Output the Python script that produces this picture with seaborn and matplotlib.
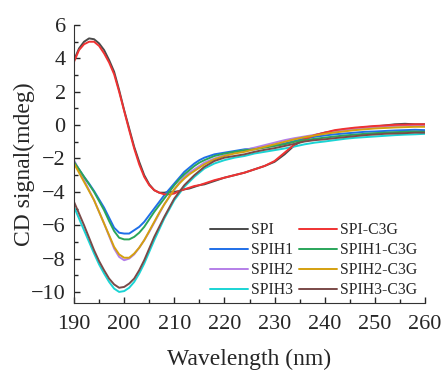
import numpy as np
import pandas as pd
import matplotlib
matplotlib.use('Agg')
import matplotlib.pyplot as plt
from matplotlib.ticker import MultipleLocator
import seaborn as sns

# wavelength grid (nm): 1 nm steps over the bands, 2 nm steps after
wavelength = list(range(190, 216)) + list(range(216, 261, 2))

spi = [3.9, 4.6, 5.0, 5.2, 5.15, 4.9, 4.5, 3.9, 3.2, 2.1, 0.9, -0.2, -1.3,
       -2.2, -3.0, -3.55, -3.9, -4.05, -4.05, -4.0, -4.0, -3.95, -3.85, -3.8, -3.7, -3.6,
       -3.55, -3.35, -3.15, -3.0, -2.85, -2.65, -2.45, -2.2, -1.75, -1.2, -0.85, -0.6,
       -0.45, -0.35, -0.25, -0.2, -0.12, -0.08, -0.02, 0.05, 0.08, 0.05, 0.05]
spi_c3g = [3.8, 4.5, 4.85, 5.0, 5.0, 4.75, 4.3, 3.75, 3.05, 2.0, 0.85, -0.3, -1.4,
           -2.35, -3.1, -3.6, -3.9, -4.05, -4.15, -4.15, -4.1, -3.95, -3.85, -3.75, -3.65, -3.6,
           -3.5, -3.3, -3.15, -3.0, -2.85, -2.65, -2.45, -2.15, -1.65, -1.15, -0.85, -0.6,
           -0.45, -0.3, -0.22, -0.15, -0.1, -0.05, -0.02, 0.02, 0.03, 0.05, 0.05]
spih1 = [-2.2, -2.65, -3.1, -3.5, -3.95, -4.45, -4.95, -5.55, -6.15, -6.45, -6.5, -6.5, -6.3,
         -6.1, -5.8, -5.4, -5.0, -4.6, -4.2, -3.85, -3.5, -3.15, -2.8, -2.55, -2.3, -2.1,
         -1.95, -1.75, -1.65, -1.55, -1.45, -1.4, -1.3, -1.2, -1.1, -0.95, -0.8, -0.7,
         -0.62, -0.55, -0.5, -0.45, -0.4, -0.38, -0.35, -0.32, -0.3, -0.28, -0.3]
spih1_c3g = [-2.2, -2.65, -3.1, -3.55, -4.0, -4.55, -5.1, -5.75, -6.35, -6.75, -6.85, -6.85, -6.7,
             -6.45, -6.1, -5.65, -5.2, -4.8, -4.4, -4.0, -3.6, -3.25, -2.95, -2.7, -2.45, -2.25,
             -2.1, -1.85, -1.7, -1.6, -1.5, -1.45, -1.35, -1.25, -1.15, -1.0, -0.9, -0.82,
             -0.75, -0.68, -0.62, -0.57, -0.52, -0.48, -0.45, -0.42, -0.4, -0.38, -0.4]
spih2 = [-2.1, -2.7, -3.3, -3.9, -4.5, -5.2, -5.9, -6.65, -7.4, -7.9, -8.1, -8.0, -7.75,
         -7.35, -6.9, -6.4, -5.85, -5.3, -4.75, -4.3, -3.85, -3.45, -3.1, -2.85, -2.65, -2.45,
         -2.25, -2.0, -1.8, -1.65, -1.5, -1.35, -1.2, -1.05, -0.9, -0.78, -0.68, -0.58,
         -0.48, -0.38, -0.3, -0.22, -0.17, -0.12, -0.08, -0.05, -0.02, 0.0, -0.02]
spih2_c3g = [-2.3, -2.85, -3.4, -3.95, -4.5, -5.2, -5.9, -6.6, -7.3, -7.75, -7.95, -7.95, -7.7,
             -7.35, -6.9, -6.35, -5.8, -5.25, -4.75, -4.3, -3.85, -3.5, -3.2, -2.95, -2.75, -2.55,
             -2.35, -2.05, -1.85, -1.7, -1.6, -1.45, -1.3, -1.15, -1.0, -0.85, -0.72, -0.62,
             -0.52, -0.44, -0.37, -0.3, -0.25, -0.2, -0.17, -0.14, -0.12, -0.1, -0.1]
spih3 = [-4.9, -5.6, -6.3, -7.0, -7.7, -8.35, -8.9, -9.4, -9.8, -10.0, -9.95, -9.75, -9.4,
         -8.9, -8.3, -7.6, -6.9, -6.25, -5.6, -5.05, -4.5, -4.1, -3.7, -3.4, -3.1, -2.85,
         -2.6, -2.3, -2.1, -1.95, -1.85, -1.7, -1.6, -1.5, -1.4, -1.28, -1.15, -1.05,
         -0.98, -0.9, -0.82, -0.76, -0.72, -0.68, -0.64, -0.6, -0.57, -0.55, -0.52]
spih3_c3g = [-4.6, -5.3, -6.0, -6.75, -7.5, -8.15, -8.7, -9.2, -9.55, -9.75, -9.7, -9.5, -9.2,
             -8.7, -8.1, -7.4, -6.7, -6.1, -5.5, -4.95, -4.4, -4.0, -3.6, -3.3, -3.0, -2.75,
             -2.5, -2.15, -1.95, -1.85, -1.75, -1.6, -1.48, -1.38, -1.25, -1.12, -0.98, -0.9,
             -0.85, -0.78, -0.72, -0.66, -0.6, -0.56, -0.52, -0.5, -0.48, -0.45, -0.45]

labels = ['SPI', 'SPIH1', 'SPIH2', 'SPIH3',
          'SPI-C3G', 'SPIH1-C3G', 'SPIH2-C3G', 'SPIH3-C3G']
series = [spi, spih1, spih2, spih3, spi_c3g, spih1_c3g, spih2_c3g, spih3_c3g]
colors = ['#4a4a4a', '#1f6fe8', '#b47fe8', '#1ad4d4',
          '#f03232', '#2aa55a', '#d4a00f', '#7a4a48']

df = pd.concat([pd.DataFrame({'Wavelength': wavelength, 'CD': s, 'Sample': n})
                for n, s in zip(labels, series)], ignore_index=True)

sns.set_style('ticks')
plt.rcParams['font.family'] = ['Liberation Serif', 'DejaVu Serif']

fig = plt.figure(figsize=(4.44, 3.74), dpi=100)
ax = fig.add_axes([0.1667, 0.19, 0.7905, 0.743])

sns.lineplot(data=df, x='Wavelength', y='CD', hue='Sample', hue_order=labels,
             palette=dict(zip(labels, colors)), linewidth=1.4, ax=ax)

ax.set_xlim(190, 260)
ax.set_ylim(-10.66, 6)
ax.xaxis.set_major_locator(MultipleLocator(10))
ax.xaxis.set_minor_locator(MultipleLocator(5))
ax.yaxis.set_major_locator(MultipleLocator(2))
ax.yaxis.set_minor_locator(MultipleLocator(1))
ax.tick_params(which='major', direction='in', length=4, width=1, labelsize=16, pad=6)
ax.tick_params(axis='x', which='major', pad=9)
ax.tick_params(which='minor', direction='in', length=3, width=1)
for side in ['top', 'right']:
    ax.spines[side].set_visible(False)
for side in ['left', 'bottom']:
    ax.spines[side].set_color('#333333')

ax.set_xlabel('Wavelength (nm)', fontsize=17, labelpad=10)
ax.set_ylabel('CD signal(mdeg)', fontsize=17, labelpad=-3)

handles, labs = ax.get_legend_handles_labels()
ax.legend(handles, labs, ncol=2, loc='lower right', bbox_to_anchor=(1.01, -0.022),
          frameon=False, fontsize=11.3, handlelength=2.4, handletextpad=0.2,
          columnspacing=0.4, labelspacing=0.25, borderpad=0.2)

fig.savefig('out.png', dpi=100)
